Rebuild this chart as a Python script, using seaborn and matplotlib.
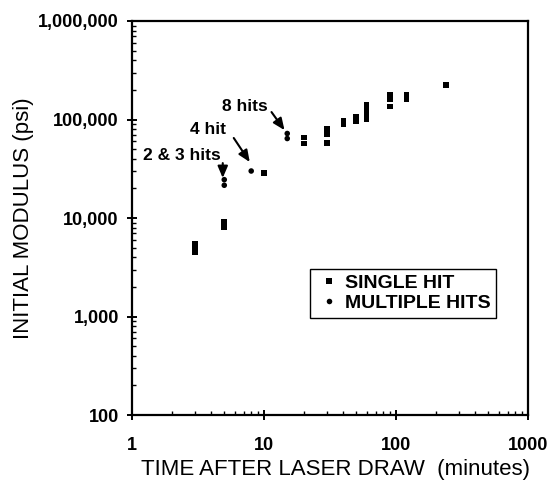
import numpy as np
import pandas as pd
import matplotlib
matplotlib.use("Agg")
import matplotlib.pyplot as plt
import matplotlib.ticker as mticker
import seaborn as sns

# ---- data ----
single_time = [3, 3, 3, 5, 5, 10, 20, 20, 30, 30, 30, 40, 40, 50, 50,
               60, 60, 60, 60, 90, 90, 90, 120, 120, 240]
single_modulus = [5500, 4950, 4470, 9100, 8000, 28600, 65600, 57000,
                  81000, 71300, 57700, 89000, 96000, 97000, 107000,
                  142000, 126000, 112000, 100000, 177000, 160000, 135000,
                  180000, 162000, 224000]
multi_time = [5, 5, 8, 15, 15]
multi_modulus = [21500, 24500, 30000, 72100, 64100]

series_names = ["SINGLE HIT", "MULTIPLE HITS"]
x_ticks = [1, 10, 100, 1000]
y_ticks = [100, 1000, 10000, 100000, 1000000]

annotations = [
    # label, text position, arrow tail, arrow head
    ("8 hits", (7.15, 137000), (11.4, 119000), (14.3, 78000)),
    ("4 hit", (3.75, 80000), (5.9, 64900), (7.8, 37000)),
    ("2 & 3 hits", (2.39, 42700), (4.87, 36100), (4.87, 25500)),
]

df = pd.DataFrame({
    "time": single_time + multi_time,
    "modulus": single_modulus + multi_modulus,
    "type": [series_names[0]] * len(single_time) + [series_names[1]] * len(multi_time),
})

sns.set_style("ticks")
plt.rcParams["font.family"] = ["Liberation Sans", "DejaVu Sans"]
plt.rcParams["text.color"] = "black"
plt.rcParams["axes.labelcolor"] = "black"
plt.rcParams["xtick.color"] = "black"
plt.rcParams["ytick.color"] = "black"

fig = plt.figure(figsize=(5.51, 4.88), dpi=100)
ax = fig.add_axes([132 / 551, 73 / 488, 396 / 551, 394 / 488])

sns.scatterplot(
    data=df, x="time", y="modulus", hue="type", style="type",
    hue_order=series_names, style_order=series_names,
    palette=["black", "black"],
    markers={"SINGLE HIT": "s", "MULTIPLE HITS": "o"},
    s=16, linewidth=0, ax=ax, legend=True,
)

ax.set_xscale("log")
ax.set_yscale("log")
ax.set_xlim(1, 1000)
ax.set_ylim(100, 1000000)
ax.set_xticks(x_ticks)
ax.set_xticklabels([str(v) for v in x_ticks])
ax.set_yticks(y_ticks)
ax.set_yticklabels([f"{v:,}" for v in y_ticks])
ax.xaxis.set_minor_locator(mticker.LogLocator(base=10, subs=np.arange(2, 10)))
ax.yaxis.set_minor_locator(mticker.LogLocator(base=10, subs=np.arange(2, 10)))
ax.xaxis.set_minor_formatter(mticker.NullFormatter())
ax.yaxis.set_minor_formatter(mticker.NullFormatter())

for s in ax.spines.values():
    s.set_linewidth(1.6)
    s.set_color("black")

ax.tick_params(axis="both", which="major", direction="inout", length=7, width=1.4,
               colors="black", top=False, right=False)
ax.tick_params(axis="both", which="minor", direction="in", length=3, width=1.0,
               colors="black", top=False, right=False)
ax.tick_params(axis="x", which="major", pad=12.5, labelsize=13)
ax.tick_params(axis="y", which="major", pad=6, labelsize=13)
for lab in ax.get_xticklabels() + ax.get_yticklabels():
    lab.set_fontweight("bold")

ax.set_xlabel("TIME AFTER LASER DRAW  (minutes)", fontsize=16)
ax.xaxis.set_label_coords(0.514, -0.112)
ax.set_ylabel("INITIAL MODULUS (psi)", fontsize=16)
ax.yaxis.set_label_coords(-0.247, 0.5)

for label, tpos, tail, head in annotations:
    ax.text(tpos[0], tpos[1], label, fontsize=12.5, fontweight="bold",
            ha="center", va="center")
    ax.annotate("", xy=head, xytext=tail,
                arrowprops=dict(arrowstyle="-|>,head_length=0.7,head_width=0.3",
                                color="black", lw=1.5, shrinkA=0, shrinkB=0))

leg = ax.legend(loc="upper left", bbox_to_anchor=(0.449, 0.371), borderaxespad=0,
                frameon=True, fancybox=False, edgecolor="black", framealpha=1,
                handlelength=1.4, handletextpad=0.1, markerscale=1.0,
                borderpad=0.3, labelspacing=0.1,
                prop={"size": 14, "weight": "bold"})
leg.get_frame().set_linewidth(1.0)

fig.savefig("out.png", dpi=100)
